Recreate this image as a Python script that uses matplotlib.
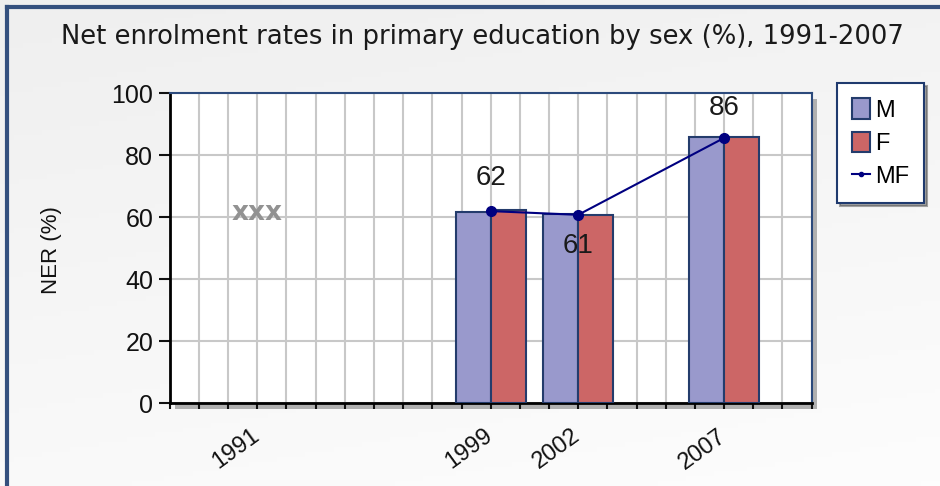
import matplotlib
matplotlib.use('Agg')
import matplotlib.pyplot as plt
import numpy as np
from matplotlib.patches import Rectangle, Patch
from matplotlib.lines import Line2D
from matplotlib.transforms import ScaledTranslation

# ---- data ----
years = [1999, 2002, 2007]
male = [61.7, 61.1, 86.0]
female = [62.3, 60.6, 86.0]
total = [62.0, 60.8, 85.6]
total_labels = ['62', '61', '86']
missing_year = 1991
missing_value = 61.5
missing_label = 'xxx'
labelled_years = [1991, 1999, 2002, 2007]
x_min, x_max = 1988, 2010
y_ticks = [0, 20, 40, 60, 80, 100]
title = 'Net enrolment rates in primary education by sex (%), 1991-2007'
y_label = 'NER (%)'
series_names = ['M', 'F', 'MF']

W, H = 940, 486
fig = plt.figure(figsize=(W / 100, H / 100), dpi=100)
fig.patch.set_facecolor('#f3f3f3')

# background gradient
bg = fig.add_axes([0, 0, 1, 1], zorder=-10)
gx, gy = np.meshgrid(np.linspace(0, 1, 200), np.linspace(0, 1, 100))
grad = 0.25 * gx + 0.75 * gy
bg.imshow(grad, cmap=matplotlib.colors.LinearSegmentedColormap.from_list(
    'g', ['#efefef', '#fdfdfd']), aspect='auto', extent=[0, 1, 0, 1])
bg.set_axis_off()

# outer frame (top and left)
fig.add_artist(Line2D([7 / W, 7 / W], [0, 1 - 7 / H], transform=fig.transFigure,
                      color='#34507e', lw=3))
fig.add_artist(Line2D([7 / W, 1], [1 - 7 / H, 1 - 7 / H], transform=fig.transFigure,
                      color='#34507e', lw=3))

L, R, T, B = 169.8, 811.6, 93.3, 403.3
ax_rect = [L / W, 1 - B / H, (R - L) / W, (B - T) / H]

# shadow of the plot area
fig.add_artist(Rectangle((ax_rect[0] + 5 / W, ax_rect[1] - 6 / H), ax_rect[2], ax_rect[3],
                         transform=fig.transFigure, facecolor='#b0b0b0', edgecolor='none',
                         zorder=-5))

ax = fig.add_axes(ax_rect)
ax.set_facecolor('white')
ax.set_xlim(x_min, x_max)
ax.set_ylim(0, 100)

yrs = np.array(years, dtype=float)
bw = 1.2
ax.bar(yrs - bw / 2, male, width=bw, color='#9999cc', edgecolor='#243c6c', lw=1.5, zorder=3)
ax.bar(yrs + bw / 2, female, width=bw, color='#cc6666', edgecolor='#243c6c', lw=1.5, zorder=3)
ax.plot(yrs, total, color='#000080', lw=1.5, marker='o', ms=7, zorder=4)

offsets = [33, -31, 30]
for x, y, lab, dy in zip(yrs, total, total_labels, offsets):
    ax.annotate(lab, (x, y), xytext=(0, dy), textcoords='offset pixels',
                ha='center', va='center', fontsize=20, color='#1a1a1a',
                family='Liberation Sans', zorder=5)

ax.text(missing_year, missing_value, missing_label, ha='center', va='center',
        fontsize=19, fontweight='bold', color='#929292', family='DejaVu Sans', zorder=5)

all_years = list(range(x_min, x_max + 1))
ax.set_xticks(all_years)
ax.set_xticklabels([str(y) if y in labelled_years else '' for y in all_years])
ax.set_yticks(y_ticks)
ax.set_yticklabels([str(v) for v in y_ticks], family='Liberation Sans')
ax.grid(True, color='#c8c8c8', lw=1.5)
ax.set_axisbelow(True)

ax.tick_params(axis='y', length=8, width=1.5, labelsize=18, pad=4, colors='#111111')
ax.tick_params(axis='x', length=4.5, width=1.5, labelsize=17, pad=11, colors='#111111')
shift = ScaledTranslation(-7 / 100, 0, fig.dpi_scale_trans)
for lab in ax.get_xticklabels():
    lab.set_rotation(36)
    lab.set_ha('right')
    lab.set_rotation_mode('anchor')
    lab.set_family('Liberation Sans')
    lab.set_transform(lab.get_transform() + shift)

for s in ['left', 'bottom']:
    ax.spines[s].set_color('black')
    ax.spines[s].set_linewidth(2)
for s in ['top', 'right']:
    ax.spines[s].set_color('#2c4a7c')
    ax.spines[s].set_linewidth(1.5)

fig.text(52 / W, 1 - 250 / H, y_label, rotation=90, ha='center', va='center',
         fontsize=16, color='#111111', family='Liberation Sans')
fig.text(482 / W, 1 - 37 / H, title, ha='center', va='center', fontsize=18.6,
         color='#1a1a1a', family='DejaVu Sans')

handles = [Patch(facecolor='#9999cc', edgecolor='#243c6c', lw=1.5),
           Patch(facecolor='#cc6666', edgecolor='#243c6c', lw=1.5),
           Line2D([], [], color='#000080', lw=1.5, marker='o', ms=3)]
leg = fig.legend(handles, series_names, loc='upper left',
                 bbox_to_anchor=(837 / W, 1 - 83 / H), frameon=True,
                 fancybox=False, shadow=True, handlelength=0.75, handleheight=0.95,
                 handletextpad=0.2, labelspacing=0.42, borderpad=0.65, borderaxespad=0,
                 prop={'family': 'Liberation Sans', 'size': 17})
leg.get_frame().set_edgecolor('#1f3a6e')
leg.get_frame().set_linewidth(1.5)

fig.savefig('out.png', dpi=100, facecolor=fig.get_facecolor())
